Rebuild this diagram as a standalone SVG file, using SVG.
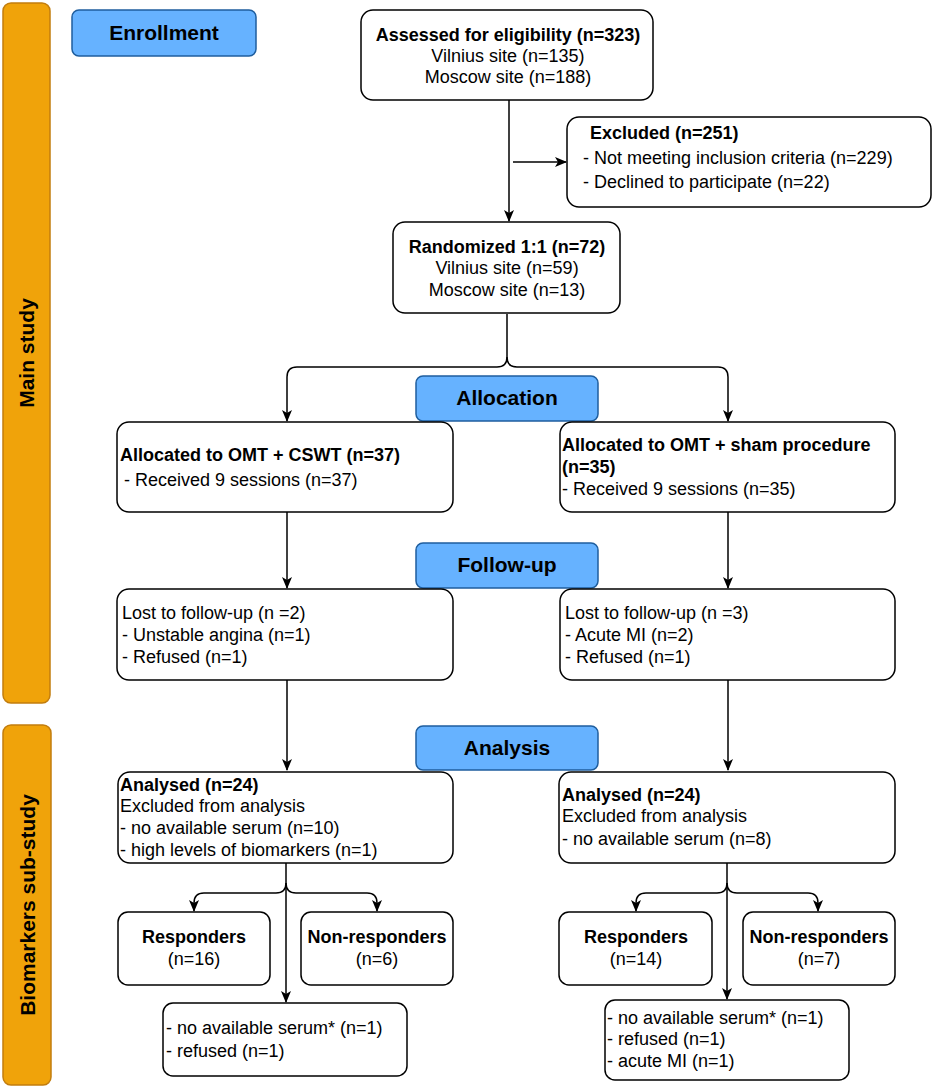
<svg xmlns="http://www.w3.org/2000/svg" width="935" height="1089" viewBox="0 0 935 1089">
<style>
text{font-family:"Liberation Sans",Arial,Helvetica,sans-serif;font-size:18px;fill:#000}
.b{font-weight:bold}
.c{text-anchor:middle}
.lbl{font-weight:bold;font-size:21px;text-anchor:middle}
.box{fill:#fff;stroke:#000;stroke-width:1.5}
.phase{fill:#66B2FF;stroke:#1F5E9E;stroke-width:1.5}
.side{fill:#F0A30A;stroke:#C27D0E;stroke-width:1.5}
.con{fill:none;stroke:#000;stroke-width:1.5}
</style>
<defs>
<marker id="ar" viewBox="0 0 12 10" refX="11" refY="5" markerWidth="12" markerHeight="10" markerUnits="userSpaceOnUse" orient="auto">
<path d="M0,0 L12,5 L0,10 L3,5 z" fill="#000"/>
</marker>
</defs>

<g id="side-main">
<rect class="side" x="3" y="3" width="47" height="700" rx="8"/>
<text class="lbl" transform="translate(34,353) rotate(-90)">Main study</text>
</g>
<g id="side-bio">
<rect class="side" x="3" y="725" width="48" height="360" rx="8"/>
<text class="lbl" transform="translate(35,905) rotate(-90)">Biomarkers sub-study</text>
</g>

<g id="phase-enrollment">
<rect class="phase" x="72" y="10" width="184" height="46" rx="7"/>
<text class="lbl" x="164" y="40">Enrollment</text>
</g>
<g id="phase-allocation">
<rect class="phase" x="416" y="376" width="182" height="45" rx="7"/>
<text class="lbl" x="507" y="405">Allocation</text>
</g>
<g id="phase-followup">
<rect class="phase" x="416" y="543" width="182" height="45" rx="7"/>
<text class="lbl" x="507" y="572">Follow-up</text>
</g>
<g id="phase-analysis">
<rect class="phase" x="416" y="726" width="182" height="44" rx="7"/>
<text class="lbl" x="507" y="755">Analysis</text>
</g>

<g id="connectors">
<path class="con" d="M509,100 V221" marker-end="url(#ar)"/>
<path class="con" d="M513,162 H566" marker-end="url(#ar)"/>
<path class="con" d="M507,314 V357 Q507,367 497,367 H297 Q287,367 287,377 V421" marker-end="url(#ar)"/>
<path class="con" d="M507,357 Q507,367 517,367 H718 Q728,367 728,377 V421" marker-end="url(#ar)"/>
<path class="con" d="M287,512 V588" marker-end="url(#ar)"/>
<path class="con" d="M728,512 V588" marker-end="url(#ar)"/>
<path class="con" d="M287,680 V770" marker-end="url(#ar)"/>
<path class="con" d="M728,680 V770" marker-end="url(#ar)"/>
<path class="con" d="M286,863 V1002" marker-end="url(#ar)"/>
<path class="con" d="M286,883 Q286,893 276,893 H204 Q194,893 194,903 V911" marker-end="url(#ar)"/>
<path class="con" d="M286,883 Q286,893 296,893 H367 Q377,893 377,903 V911" marker-end="url(#ar)"/>
<path class="con" d="M727,863 V999" marker-end="url(#ar)"/>
<path class="con" d="M727,883 Q727,893 717,893 H646 Q636,893 636,903 V911" marker-end="url(#ar)"/>
<path class="con" d="M727,883 Q727,893 737,893 H808 Q818,893 818,903 V911" marker-end="url(#ar)"/>
</g>

<g id="assessed">
<rect class="box" x="361" y="10" width="292" height="90" rx="12"/>
<text class="c b" x="508" y="41">Assessed for eligibility (n=323)</text>
<text class="c" x="508" y="62">Vilnius site (n=135)</text>
<text class="c" x="508" y="83">Moscow site (n=188)</text>
</g>
<g id="excluded">
<rect class="box" x="567" y="117" width="364" height="90" rx="12"/>
<text class="b" x="590" y="139">Excluded (n=251)</text>
<text x="583" y="164">- Not meeting inclusion criteria (n=229)</text>
<text x="583" y="188">- Declined to participate (n=22)</text>
</g>
<g id="randomized">
<rect class="box" x="393" y="222" width="227" height="91" rx="12"/>
<text class="c b" x="507" y="253">Randomized 1:1 (n=72)</text>
<text class="c" x="507" y="274">Vilnius site (n=59)</text>
<text class="c" x="507" y="296">Moscow site (n=13)</text>
</g>
<g id="alloc-left">
<rect class="box" x="117" y="422" width="336" height="90" rx="12"/>
<text class="b" x="120" y="461">Allocated to OMT + CSWT (n=37)</text>
<text x="124" y="486">- Received 9 sessions (n=37)</text>
</g>
<g id="alloc-right">
<rect class="box" x="560" y="422" width="335" height="90" rx="12"/>
<text class="b" x="562" y="451">Allocated to OMT + sham procedure</text>
<text class="b" x="562" y="473">(n=35)</text>
<text x="562" y="495">- Received 9 sessions (n=35)</text>
</g>
<g id="lost-left">
<rect class="box" x="117" y="589" width="336" height="91" rx="12"/>
<text x="122" y="619">Lost to follow-up (n =2)</text>
<text x="122" y="641">- Unstable angina (n=1)</text>
<text x="122" y="663">- Refused (n=1)</text>
</g>
<g id="lost-right">
<rect class="box" x="560" y="589" width="335" height="91" rx="12"/>
<text x="565" y="619">Lost to follow-up (n =3)</text>
<text x="565" y="641">- Acute MI (n=2)</text>
<text x="565" y="663">- Refused (n=1)</text>
</g>
<g id="analysed-left">
<rect class="box" x="118" y="772" width="335" height="91" rx="12"/>
<text class="b" x="120" y="791">Analysed (n=24)</text>
<text x="120" y="812">Excluded from analysis</text>
<text x="120" y="834">- no available serum (n=10)</text>
<text x="120" y="856">- high levels of biomarkers (n=1)</text>
</g>
<g id="analysed-right">
<rect class="box" x="559" y="772" width="336" height="91" rx="12"/>
<text class="b" x="562" y="801">Analysed (n=24)</text>
<text x="562" y="822">Excluded from analysis</text>
<text x="562" y="845">- no available serum (n=8)</text>
</g>
<g id="resp-left">
<rect class="box" x="118" y="912" width="152" height="73" rx="10"/>
<text class="c b" x="194" y="943">Responders</text>
<text class="c" x="194" y="965">(n=16)</text>
</g>
<g id="nonresp-left">
<rect class="box" x="301" y="912" width="152" height="73" rx="10"/>
<text class="c b" x="377" y="943">Non-responders</text>
<text class="c" x="377" y="965">(n=6)</text>
</g>
<g id="resp-right">
<rect class="box" x="559" y="912" width="153" height="73" rx="10"/>
<text class="c b" x="636" y="943">Responders</text>
<text class="c" x="636" y="965">(n=14)</text>
</g>
<g id="nonresp-right">
<rect class="box" x="743" y="912" width="152" height="73" rx="10"/>
<text class="c b" x="819" y="943">Non-responders</text>
<text class="c" x="819" y="965">(n=7)</text>
</g>
<g id="excl-left">
<rect class="box" x="163" y="1003" width="244" height="73" rx="10"/>
<text x="166" y="1034">- no available serum* (n=1)</text>
<text x="166" y="1057">- refused (n=1)</text>
</g>
<g id="excl-right">
<rect class="box" x="605" y="1000" width="244" height="80" rx="10"/>
<text x="607" y="1024">- no available serum* (n=1)</text>
<text x="607" y="1045">- refused (n=1)</text>
<text x="607" y="1067">- acute MI (n=1)</text>
</g>
</svg>
